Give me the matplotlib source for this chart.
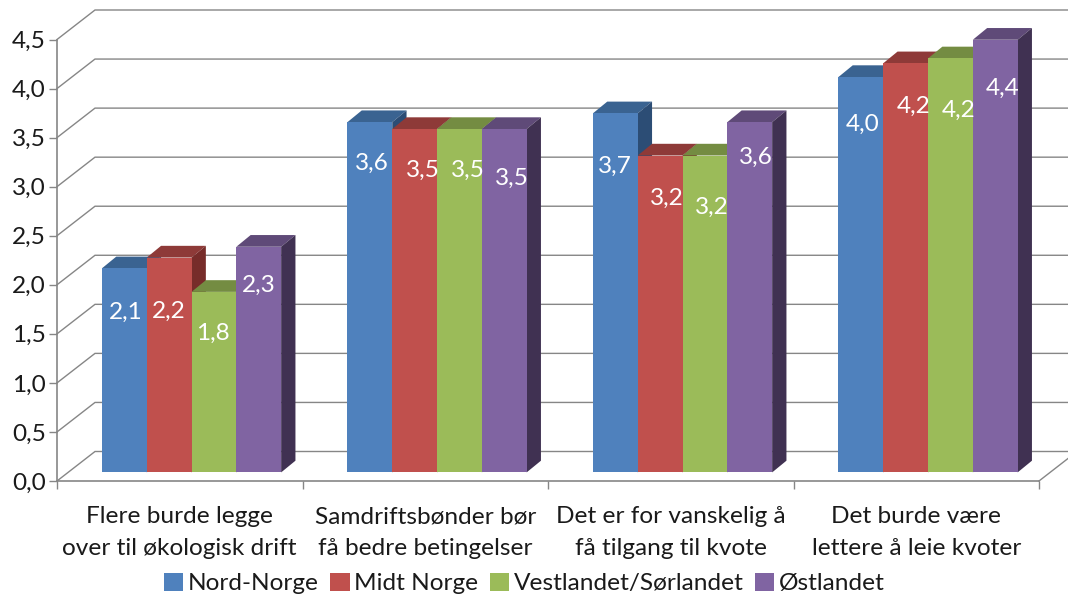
import matplotlib
matplotlib.use("Agg")
import matplotlib.pyplot as plt
from matplotlib.patches import Polygon, Patch

categories = ["Flere burde legge\nover til økologisk drift",
              "Samdriftsbønder bør\nfå bedre betingelser",
              "Det er for vanskelig å\nfå tilgang til kvote",
              "Det burde være\nlettere å leie kvoter"]
series = ["Nord-Norge", "Midt Norge", "Vestlandet/Sørlandet", "Østlandet"]
nord = [2.08, 3.57, 3.66, 4.03]
midt = [2.19, 3.50, 3.23, 4.17]
vest = [1.84, 3.50, 3.23, 4.22]
ost = [2.30, 3.50, 3.57, 4.41]
yticks = [0.0, 0.5, 1.0, 1.5, 2.0, 2.5, 3.0, 3.5, 4.0, 4.5]

front = ["#4F81BD", "#C0504D", "#9BBB59", "#8064A2"]
top = ["#3A6391", "#8E3A38", "#748C42", "#5F4A78"]
side = ["#2C4D75", "#772C2A", "#5F7530", "#403152"]
GRID = "#868686"
TXT = "#1a1a1a"
FONT = "Lato"
FS = 17.6

# data label placement in pixels, relative to each bar's top edge and centre (per group, per series)
label_drop = [[44, 54, 41, 39], [41, 41, 41, 49], [53, 43, 52, 35], [47, 43, 52, 49]]
label_shift = [[1, 0, -1, 0], [2, 8, 8, 8], [0, 7, 7, 6], [2, 8, 8, 7]]

W, H = 1068, 596
L, R, B, T = 57, 1039, 481, 39.5
fig = plt.figure(figsize=(W / 100, H / 100), dpi=100, facecolor="white")
ax = fig.add_axes([L / W, (H - B) / H, (R - L) / W, (B - T) / H], facecolor="none")
ax.set_xlim(0, 4)
ax.set_ylim(0, 4.5)
px = 4 / (R - L)
py = 4.5 / (B - T)

# back wall and side wall gridlines
wall_dx, wall_dy = 38 * px, 29.5 * py
for v in yticks:
    ax.plot([0, wall_dx, 4 + wall_dx], [v, v + wall_dy, v + wall_dy], color=GRID, lw=1.0,
            clip_on=False, zorder=1, solid_joinstyle="miter")
ax.plot([4, 4 + wall_dx], [0, wall_dy], color=GRID, lw=1.0, clip_on=False, zorder=1)

# bars
bw = 44.8 * px
ddx, ddy = 14.3 * px, 11.7 * py
fx, fy = 11.8 * px, 8.6 * py
group_w = 4 * bw
values = [nord, midt, vest, ost]
z = 3
for g in range(4):
    x0 = g + 0.5 - group_w / 2 + fx
    for s in range(4):
        v = values[s][g]
        xl = x0 + s * bw
        xr = xl + bw
        yb, yt = fy, fy + v
        ax.add_patch(Polygon([(xl, yt), (xr, yt), (xr + ddx, yt + ddy), (xl + ddx, yt + ddy)],
                             closed=True, fc=top[s], ec="none", zorder=z, clip_on=False))
        ax.add_patch(Polygon([(xr, yb), (xr + ddx, yb + ddy), (xr + ddx, yt + ddy), (xr, yt)],
                             closed=True, fc=side[s], ec="none", zorder=z, clip_on=False))
        ax.bar(xl, v, width=bw, bottom=yb, align="edge", color=front[s], zorder=z + 0.5,
               clip_on=False, linewidth=0)
        label = f"{v:.1f}".replace(".", ",")
        ax.text(xl + bw / 2 + label_shift[g][s] * px, yt - label_drop[g][s] * py, label, color="white",
                ha="center", va="center", family=FONT, fontsize=FS, zorder=50, clip_on=False)
        z += 1

# axes
for sp in ("top", "right"):
    ax.spines[sp].set_visible(False)
for sp in ("left", "bottom"):
    ax.spines[sp].set_color(GRID)
    ax.spines[sp].set_linewidth(1.2)
    ax.spines[sp].set_zorder(2)
ax.set_yticks(yticks)
ax.set_yticklabels([f"{v:.1f}".replace(".", ",") for v in yticks], family=FONT, fontsize=FS, color=TXT)
ax.tick_params(axis="y", length=6, width=1.0, color=GRID, pad=2)
ax.set_xticks([0, 1, 2, 3, 4])
ax.set_xticklabels([])
ax.tick_params(axis="x", which="major", length=6, width=1.0, color=GRID)
ax.set_xticks([0.5, 1.5, 2.5, 3.5], minor=True)
ax.set_xticklabels(categories, minor=True, family=FONT, fontsize=FS, color=TXT, linespacing=1.65)
ax.tick_params(axis="x", which="minor", length=0, pad=18)

handles = [Patch(fc=c, ec="none", label=n) for c, n in zip(front, series)]
fig.legend(handles=handles, ncol=4, loc="lower left", bbox_to_anchor=(144 / W, -18 / H), frameon=False,
           prop={"family": FONT, "size": FS}, labelcolor=TXT, handlelength=0.8, handleheight=0.8,
           handletextpad=0.2, columnspacing=0.45, borderpad=0.3)

fig.savefig("out.png", dpi=100, facecolor="white")
